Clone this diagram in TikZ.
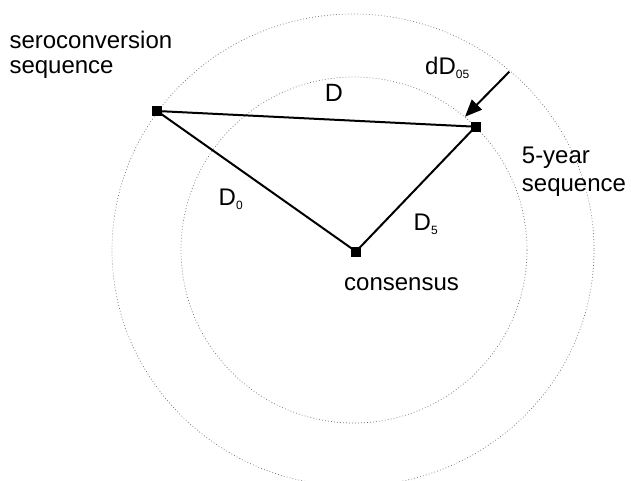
\documentclass[tikz,border=0pt]{standalone}
\usepackage{fontspec}
\setmainfont{Liberation Sans}
\usetikzlibrary{arrows.meta}
\newcommand{\lowidx}[1]{\raisebox{-4pt}{\fontsize{12}{12}\selectfont #1}}
\begin{document}
\begin{tikzpicture}[x=1pt,y=-1pt,
  ring/.style={draw=black!55, line width=0.7pt, dash pattern=on 0.8pt off 2.2pt},
  seqpt/.style={fill=black, minimum size=10pt, inner sep=0pt, rectangle},
  link/.style={line width=2pt, black},
  lbl/.style={inner sep=0pt, anchor=base west, font=\fontsize{24}{25}\selectfont},
]
\useasboundingbox (0,0) rectangle (631,480);
\begin{scope}
\clip (0,0) rectangle (631,480);
\draw[ring] (353,250) ellipse [x radius=241, y radius=236];
\draw[ring] (354,250) circle [radius=173];
\end{scope}
\node[seqpt] (sero) at (157,111) {};
\node[seqpt] (five) at (475.5,126.7) {};
\node[seqpt] (cons) at (356,251.5) {};
\draw[link] (sero.center) -- (five.center);
\draw[link] (sero.center) -- (cons.center);
\draw[link] (cons.center) -- (five.center);
\coordinate (arrowtail) at (509.3,71.7);
\coordinate (arrowtip) at (465,116.7);
\draw[link, -{Triangle[length=17pt,width=14pt]}] (arrowtail) -- (arrowtip);
\node[lbl, align=left] (lsero) at (9.3,73.3) {seroconversion\\sequence};
\node[lbl, align=left, font=\fontsize{24}{28}\selectfont] (lfive) at (521.7,191.7) {5-year\\sequence};
\node[lbl] (lcons) at (344,290) {consensus};
\node[lbl, font=\fontsize{25}{25}\selectfont] (lD) at (324.7,101.7) {D};
\node[lbl] (lD0) at (218.5,205) {D\lowidx{0}};
\node[lbl] (lD5) at (413.5,230) {D\lowidx{5}};
\node[lbl] (ldD) at (425,74) {dD\lowidx{05}};
\end{tikzpicture}
\end{document}
